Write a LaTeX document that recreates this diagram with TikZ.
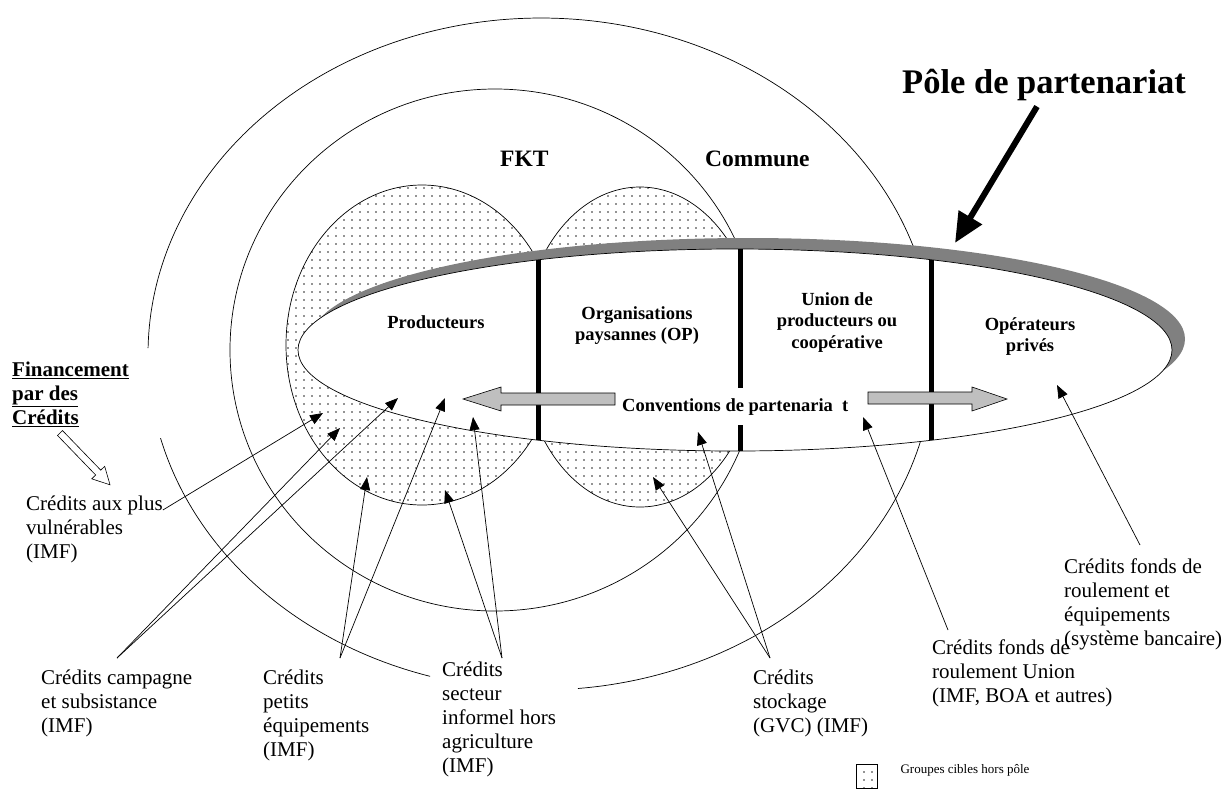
\documentclass[tikz,border=0pt]{standalone}
\usepackage{fontspec}
\setmainfont{Liberation Serif}
\usetikzlibrary{arrows.meta,patterns.meta,calc}
\begin{document}
\begin{tikzpicture}[x=1pt,y=-1pt,
  lab/.style={font=\fontsize{21}{24}\selectfont, align=left, inner sep=0pt, anchor=north west},
  zone/.style={font=\bfseries\fontsize{18.5}{21.5}\selectfont, align=center, inner sep=0pt},
  region/.style={font=\bfseries\fontsize{23.5}{27}\selectfont, inner sep=0pt, anchor=base west},
  lead/.style={line width=0.7pt, -{Triangle[length=13pt,width=10pt]}},
  ring/.style={line width=0.7pt},
  dotzone/.style={pattern={Dots[distance=8pt,radius=0.8pt]}, pattern color=black!85, draw, line width=0.7pt},
  bar/.style={line width=5pt},
  flow/.style={draw, line width=0.6pt, fill=black!25},
]
\useasboundingbox (0,0) rectangle (1226,788);

% Commune (outer ring), open where labels sit
\draw[ring] plot[domain=106.4:165.5, samples=60, variable=\t] ({541+393*cos(\t)},{354+336*sin(\t)});
\draw[ring] plot[domain=181:444.6, samples=220, variable=\t] ({541+393*cos(\t)},{354+336*sin(\t)});

% FKT ring
\draw[ring] (495,350) ellipse [x radius=265, y radius=261];

% target groups outside the pole
\draw[dotzone] (422,345) ellipse [x radius=136, y radius=160];
\draw[dotzone] (640,347) ellipse [x radius=118, y radius=160];

% partnership pole with its shadow
\fill[black!50] (748,339) ellipse [x radius=437, y radius=101];
\draw[ring, fill=white] (735,350) ellipse [x radius=437, y radius=101];

% dividers
\draw[bar] (538,260) -- (538,440);
\draw[bar] (740,249) -- (740,451);
\draw[bar] (931,260) -- (931,440);

% conventions and flows
\node[zone, anchor=base west, fill=white, inner xsep=1pt, inner ysep=10pt] (conv) at (621,411) {Conventions de partenaria\ \ t};
\draw[flow] (615,393) -- (501,393) -- (501,387) -- (463,399) -- (501,411) -- (501,405) -- (615,405) -- cycle;
\draw[flow] (868,392) -- (972,392) -- (972,387) -- (1007,399) -- (972,411) -- (972,404) -- (868,404) -- cycle;

% actors
\node[zone, anchor=base] (prod) at (436,328) {Producteurs};
\node[zone, anchor=north] (op) at (637,306) {Organisations\\paysannes (OP)};
\node[zone, anchor=north] (uni) at (837,292) {Union de\\producteurs ou\\coopérative};
\node[zone, anchor=north] (opr) at (1030,317) {Opérateurs\\privés};

% territorial levels
\node[region] (fkt) at (500,166) {FKT};
\node[region] (com) at (705,166) {Commune};

% title and its pointer
\node[font=\bfseries\fontsize{34.5}{40}\selectfont, inner sep=0pt, anchor=base west] (ptitle) at (902,93) {Pôle de partenariat};
\coordinate (poletip) at (955,243);
\draw[line width=6pt, -{Triangle[length=30pt,width=26pt]}] ([xshift=-7pt,yshift=-6pt]ptitle.south) -- (poletip);

% financing heading
\node[lab, font=\bfseries\fontsize{21}{24}\selectfont] (fin) at (12,362) {\underline{Financement}\\\underline{par des}\\\underline{Crédits}};
\begin{scope}[shift={(60,433)}, rotate=-46]
  \draw[line width=0.6pt, fill=white] (0,-3.5) -- (55,-3.5) -- (55,-9) -- (72,0) -- (55,9) -- (55,3.5) -- (0,3.5) -- cycle;
\end{scope}

% credit labels
\node[lab] (aux) at (26,496) {Crédits aux plus\\vulnérables\\(IMF)};
\node[lab] (camp) at (41,670) {Crédits campagne\\et subsistance\\(IMF)};
\node[lab] (petit) at (263,670) {Crédits\\petits\\équipements\\(IMF)};
\node[lab] (sect) at (442,662) {Crédits\\secteur\\informel hors\\agriculture\\(IMF)};
\node[lab] (stock) at (753,670) {Crédits\\stockage\\(GVC) (IMF)};
\node[lab] (union) at (932,640) {Crédits fonds de\\roulement Union\\(IMF, BOA et autres)};
\node[lab] (bank) at (1064,559) {Crédits fonds de\\roulement et\\équipements\\(système bancaire)};

% arrow targets
\coordinate (tAux) at (323,413);
\coordinate (tCampA) at (340,428);
\coordinate (tCampB) at (398,398);
\coordinate (tPetA) at (367,477);
\coordinate (tPetB) at (445,398);
\coordinate (tSecA) at (445,490);
\coordinate (tSecB) at (473,417);
\coordinate (tStoA) at (653,477);
\coordinate (tStoB) at (698,432);
\coordinate (tUni) at (863,417);
\coordinate (tOpe) at (1057,385);

\draw[lead] ([yshift=-14pt]aux.north east) -- (tAux);
\draw[lead] ([shift={(76pt,12pt)}]camp.north west) -- (tCampA);
\draw[lead] ([shift={(76pt,12pt)}]camp.north west) -- (tCampB);
\draw[lead] ([shift={(77pt,12pt)}]petit.north west) -- (tPetA);
\draw[lead] ([shift={(77pt,12pt)}]petit.north west) -- (tPetB);
\draw[lead] ([shift={(60pt,4pt)}]sect.north west) -- (tSecA);
\draw[lead] ([shift={(60pt,4pt)}]sect.north west) -- (tSecB);
\draw[lead] ([shift={(17pt,12pt)}]stock.north west) -- (tStoA);
\draw[lead] ([shift={(17pt,12pt)}]stock.north west) -- (tStoB);
\draw[lead] ([shift={(16pt,10pt)}]union.north west) -- (tUni);
\draw[lead] ([shift={(76pt,14pt)}]bank.north west) -- (tOpe);

% legend
\node[dotzone, minimum width=21pt, minimum height=24pt, inner sep=0pt] (key) at (866.5,776) {};
\node[font=\fontsize{13}{15}\selectfont, inner sep=0pt, anchor=west] (keytext) at ([xshift=23pt, yshift=6pt]key.east) {Groupes cibles hors pôle};
\end{tikzpicture}
\end{document}
